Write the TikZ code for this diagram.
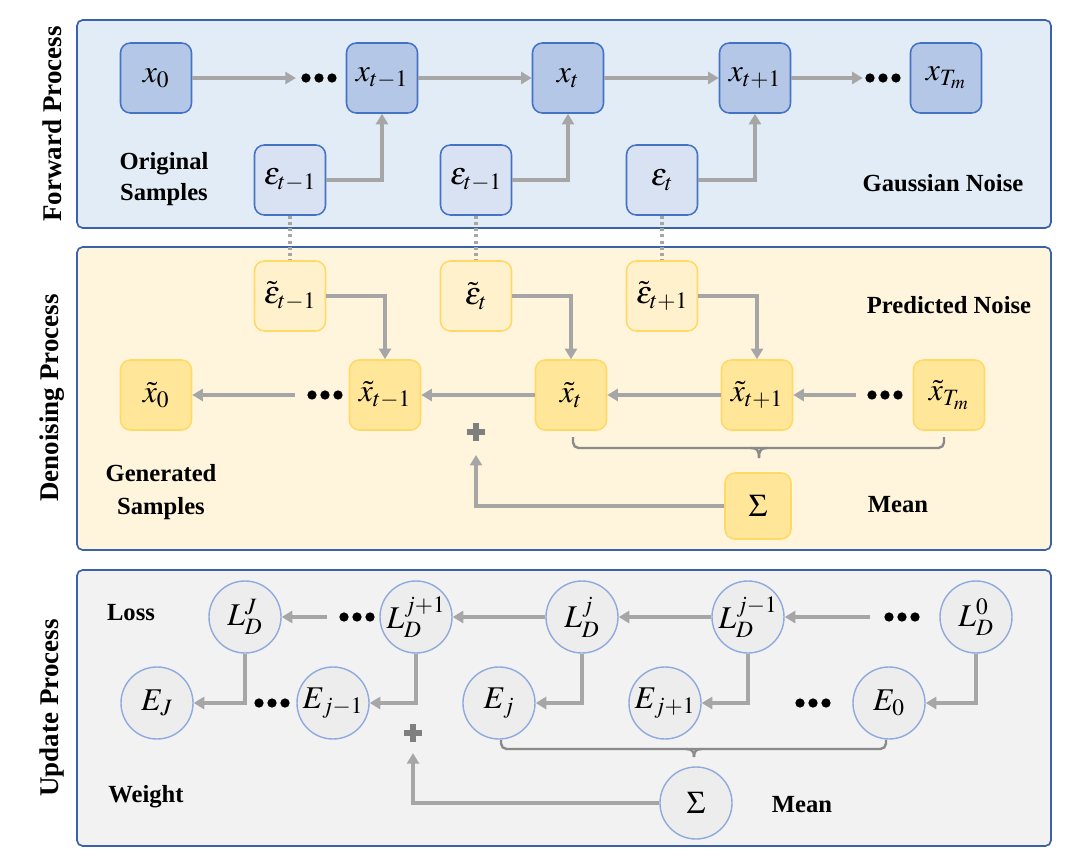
\documentclass[tikz,border=0pt]{standalone}
\usepackage{mathptmx}
\usepackage{fontspec}
\setmainfont{Liberation Serif}
\usetikzlibrary{arrows.meta,calc}
\definecolor{panelc}{HTML}{3A62A8}
\definecolor{fwdfill}{HTML}{E2ECF7}
\definecolor{xfill}{HTML}{B4C7E7}
\definecolor{efill}{HTML}{D9E2F3}
\definecolor{bluebd}{HTML}{4472C4}
\definecolor{denfill}{HTML}{FFF5DD}
\definecolor{nfill}{HTML}{FFF1CC}
\definecolor{yfill}{HTML}{FFE699}
\definecolor{yelbd}{HTML}{FFD966}
\definecolor{updfill}{HTML}{F2F2F2}
\definecolor{cfill}{HTML}{EDEDED}
\definecolor{cbd}{HTML}{8FAADC}
\definecolor{arrc}{HTML}{A6A6A6}
\definecolor{bracec}{HTML}{8A8A8A}
\definecolor{plusc}{HTML}{7F7F7F}
\begin{document}
\begin{tikzpicture}[x=0.025cm,y=-0.025cm,
  panel/.style={draw=panelc, line width=1.2pt, rounded corners=4pt},
  mfont/.style={font=\fontsize{22.5}{26}\selectfont},
  boxbase/.style={rounded corners=7pt, minimum width=1.775cm, minimum height=1.75cm, inner sep=0pt, line width=1.1pt, mfont},
  xb/.style={boxbase, draw=bluebd, fill=xfill},
  eb/.style={boxbase, draw=bluebd, fill=efill},
  nb/.style={boxbase, draw=yelbd, fill=nfill},
  yb/.style={boxbase, draw=yelbd, fill=yfill},
  cn/.style={circle, minimum size=1.8cm, inner sep=0pt, draw=cbd, fill=cfill, line width=1pt, mfont},
  tdots/.style={inner sep=0pt, minimum width=1cm, minimum height=0.3cm,
    path picture={\foreach \dx in {-9.25pt,0pt,9.25pt}{\fill[black] ($(path picture bounding box.center)+(\dx,0)$) circle (3.3pt);}}},
  plusn/.style={inner sep=0pt, minimum size=0.5cm,
    path picture={\fill[plusc] ($(path picture bounding box.center)+(-6.4pt,-2pt)$) rectangle ($(path picture bounding box.center)+(6.4pt,2pt)$);
      \fill[plusc] ($(path picture bounding box.center)+(-2pt,-6.4pt)$) rectangle ($(path picture bounding box.center)+(2pt,6.4pt)$);}},
  arr/.style={draw=arrc, line width=2.3pt, -{Triangle[length=7.5pt,width=8.5pt]}},
  dotl/.style={draw=arrc, line width=2.6pt, dash pattern=on 2.2pt off 2.2pt},
  bracest/.style={draw=bracec, line width=1.7pt, rounded corners=4pt},
  lab/.style={font=\fontsize{17.5}{21}\selectfont\bfseries, align=center, inner sep=0pt},
  ttl/.style={font=\fontsize{19.2}{23}\selectfont\bfseries, rotate=90, inner sep=0pt}
]
\useasboundingbox (0,0) rectangle (1080,861);

% panels
\draw[panel, fill=fwdfill] (77,20) rectangle (1051,228);
\draw[panel, fill=denfill] (77,247) rectangle (1051,550);
\draw[panel, fill=updfill] (77,570) rectangle (1051,846);

% titles
\node[ttl] (tf) at (52,124) {Forward Process};
\node[ttl] (td) at (52,398) {Denoising Process};
\node[ttl] (tu) at (52,708) {Update Process};

% ---------- forward ----------
\node[xb] (x0) at (156,78) {$x_0$};
\node[tdots] (d1) at (319,78) {};
\node[xb] (x1) at (382,78) {$x_{t-1}$};
\node[xb] (x2) at (568,78) {$x_t$};
\node[xb] (x3) at (755,78) {$x_{t+1}$};
\node[tdots] (d2) at (883,78) {};
\node[xb] (x4) at (946,78) {$x_{T_m}$};
\node[eb] (e1) at (290,180) {$\varepsilon_{t-1}$};
\node[eb] (e2) at (476,180) {$\varepsilon_{t-1}$};
\node[eb] (e3) at (662,180) {$\varepsilon_t$};
\node[lab] (lo) at (164,179) {Original\\[1.5pt]Samples};
\node[lab] (lg) at (943,183) {Gaussian Noise};

\draw[arr, shorten >=2pt] (x0.east) -- (d1.west);
\draw[arr] (x1.east) -- (x2.west);
\draw[arr] (x2.east) -- (x3.west);
\draw[arr] (x3.east) -- (d2.west);
\draw[arr] (e1.east) -| (x1.south);
\draw[arr] (e2.east) -| (x2.south);
\draw[arr] (e3.east) -| (x3.south);

% ---------- denoising ----------
\node[nb] (n1) at (290,296) {$\tilde{\varepsilon}_{t-1}$};
\node[nb] (n2) at (476,296) {$\tilde{\varepsilon}_t$};
\node[nb] (n3) at (662,296) {$\tilde{\varepsilon}_{t+1}$};
\node[yb] (y0) at (156,395) {$\tilde{x}_0$};
\node[tdots] (d3) at (325,395) {};
\node[yb] (y1) at (385,395) {$\tilde{x}_{t-1}$};
\node[yb] (y2) at (571,395) {$\tilde{x}_t$};
\node[yb] (y3) at (757,395) {$\tilde{x}_{t+1}$};
\node[tdots] (d4) at (885,395) {};
\node[yb] (y4) at (949,395) {$\tilde{x}_{T_m}$};
\node[yb, minimum width=1.65cm, minimum height=1.65cm] (s1) at (758,506) {$\Sigma$};
\node[plusn] (p1) at (476,432) {};
\node[lab] (lp) at (949,305) {Predicted Noise};
\node[lab] (lgs) at (161,492) {Generated\\[2pt]Samples};
\node[lab] (lm1) at (898,505) {Mean};

\draw[dotl] (e1.south) -- (n1.north);
\draw[dotl] (e2.south) -- (n2.north);
\draw[dotl] (e3.south) -- (n3.north);

\draw[arr] (n1.east) -| (y1.north);
\draw[arr] (n2.east) -| (y2.north);
\draw[arr] (n3.east) -| (y3.north);
\draw[arr, shorten <=7pt] (d3.west) -- (y0.east);
\draw[arr] (y2.west) -- (y1.east);
\draw[arr] (y3.west) -- (y2.east);
\draw[arr, shorten <=6pt] (d4.west) -- (y3.east);
\draw[arr, shorten >=9pt] (s1.west) -| (p1.south);

\coordinate (b1a) at (573,437);
\coordinate (b1b) at (944,437);
\coordinate (b1m) at (759,448);
\draw[bracest] (b1a) |- (b1m) -| (b1b);
\draw[draw=bracec, line width=1.7pt] (751,448) .. controls (757,448) and (759,450) .. (759,458);
\draw[draw=bracec, line width=1.7pt] (767,448) .. controls (761,448) and (759,450) .. (759,458);

% ---------- update ----------
\node[cn] (l1) at (245,617) {$L_D^J$};
\node[tdots] (d5) at (357,617) {};
\node[cn] (l2) at (416,617) {$L_D^{j+1}$};
\node[cn] (l3) at (582,617) {$L_D^j$};
\node[cn] (l4) at (748,617) {$L_D^{j-1}$};
\node[tdots] (d6) at (902,617) {};
\node[cn] (l5) at (976,617) {$L_D^0$};

\node[cn] (E1) at (157,703) {$E_J$};
\node[tdots] (d7) at (272,703) {};
\node[cn] (E2) at (333,703) {$E_{j-1}$};
\node[cn] (E3) at (499,703) {$E_j$};
\node[cn] (E4) at (665,703) {$E_{j+1}$};
\node[tdots] (d8) at (813,703) {};
\node[cn] (E5) at (889,703) {$E_0$};
\node[cn] (s2) at (696,803) {$\Sigma$};
\node[plusn] (p2) at (413,733) {};
\node[lab] (ll) at (131,613) {Loss};
\node[lab] (lw) at (146,797) {Weight};
\node[lab] (lm2) at (802,805) {Mean};

\draw[arr, shorten <=7pt] (d5.west) -- (l1.east);
\draw[arr] (l3.west) -- (l2.east);
\draw[arr] (l4.west) -- (l3.east);
\draw[arr, shorten <=8pt] (d6.west) -- (l4.east);
\draw[arr] (l1.south) |- (E1.east);
\draw[arr] (l2.south) |- (E2.east);
\draw[arr] (l3.south) |- (E3.east);
\draw[arr] (l4.south) |- (E4.east);
\draw[arr] (l5.south) |- (E5.east);
\draw[arr, shorten >=7pt] (s2.west) -| (p2.south);

\coordinate (b2a) at (501,740);
\coordinate (b2b) at (886,740);
\coordinate (b2m) at (694,749);
\draw[bracest] (b2a) |- (b2m) -| (b2b);
\draw[draw=bracec, line width=1.7pt] (686,749) .. controls (692,749) and (694,751) .. (694,757);
\draw[draw=bracec, line width=1.7pt] (702,749) .. controls (696,749) and (694,751) .. (694,757);
\end{tikzpicture}
\end{document}
